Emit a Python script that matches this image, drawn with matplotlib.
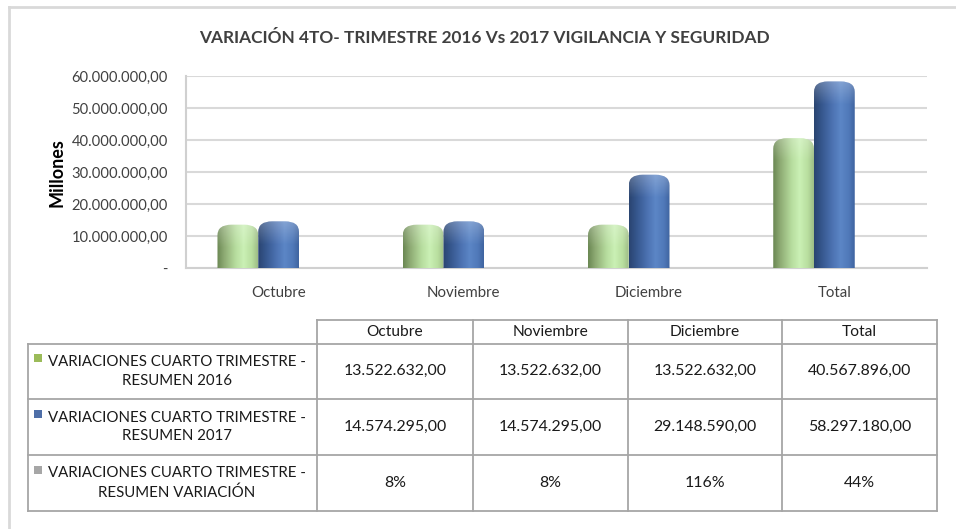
import matplotlib
matplotlib.use("Agg")
import matplotlib.pyplot as plt
import numpy as np
from matplotlib.patches import FancyBboxPatch, Rectangle
from matplotlib.lines import Line2D
from matplotlib.colors import LinearSegmentedColormap

# ---------------- data ----------------
categories = ["Octubre", "Noviembre", "Diciembre", "Total"]
series_names = ["VARIACIONES CUARTO TRIMESTRE -\nRESUMEN 2016",
                "VARIACIONES CUARTO TRIMESTRE -\nRESUMEN 2017",
                "VARIACIONES CUARTO TRIMESTRE -\nRESUMEN VARIACIÓN"]
values_2016 = [13522632.00, 13522632.00, 13522632.00, 40567896.00]
values_2017 = [14574295.00, 14574295.00, 29148590.00, 58297180.00]
variation_pct = [8, 8, 116, 44]
y_ticks = [0, 10000000, 20000000, 30000000, 40000000, 50000000, 60000000]
title = "VARIACIÓN 4TO- TRIMESTRE 2016 Vs 2017 VIGILANCIA Y SEGURIDAD"

FONT = ["Lato", "DejaVu Sans"]
plt.rcParams["font.family"] = FONT

W, H = 956, 529
fig = plt.figure(figsize=(W / 100, H / 100), dpi=100)

def fx(px):
    return px / W

def fy(py):
    return 1 - py / H

# outer frame
fig.add_artist(Line2D([fx(9), fx(9)], [fy(7), fy(H + 5)], color="#d9d9d9", lw=2))
fig.add_artist(Line2D([fx(9), fx(W + 5)], [fy(7), fy(7)], color="#d9d9d9", lw=2))

# title
fig.text(fx(484), fy(38), title, ha="center", va="center", fontsize=12.4,
         fontweight="bold", color="#404040", family=FONT)

# ---------------- chart ----------------
ax = fig.add_axes([fx(186), fy(268), fx(927) - fx(186), fy(76) - fy(268)])
ax.set_xlim(-0.5, len(categories) - 0.5)
ax.set_ylim(0, 60000000)
for s in ["top", "right"]:
    ax.spines[s].set_visible(False)
ax.spines["left"].set_color("#d0d0d0")
ax.spines["bottom"].set_color("#d0d0d0")
ax.spines["left"].set_linewidth(1.5)
ax.spines["bottom"].set_linewidth(1.5)
ax.set_yticks(y_ticks)

def fmt_es(v):
    if v == 0:
        return "-"
    s = f"{v:,.2f}"
    return s.replace(",", "X").replace(".", ",").replace("X", ".")

ax.set_yticklabels([fmt_es(v) for v in y_ticks], fontsize=10.6, color="#404040")
ax.set_xticks(range(len(categories)))
ax.set_xticklabels(categories, fontsize=10.8, color="#404040")
ax.tick_params(axis="both", length=0)
ax.tick_params(axis="y", pad=13)
ax.tick_params(axis="x", pad=13)
ax.grid(axis="y", color="#d9d9d9", lw=1.5)
ax.set_axisbelow(True)
fig.text(fx(57), fy(173), "Millones", rotation=90, ha="center", va="center",
         fontsize=13, fontweight="bold", color="#000000")

green_cmap = LinearSegmentedColormap.from_list(
    "g", [(0.0, "#6a8752"), (0.18, "#8eab74"), (0.45, "#b6dc9d"),
          (0.65, "#caf0b5"), (0.85, "#b9df9f"), (1.0, "#9dbc86")])
blue_cmap = LinearSegmentedColormap.from_list(
    "b", [(0.0, "#2a4470"), (0.18, "#35568c"), (0.45, "#4c72b2"),
          (0.65, "#5c86c6"), (0.85, "#5079b9"), (1.0, "#3f64a0")])

bw = 0.22
offset = -0.11
xs = np.arange(len(categories))
grad = np.linspace(0, 1, 256).reshape(1, -1)
bars16 = ax.bar(xs + offset - bw / 2, values_2016, bw, color="none", zorder=2)
bars17 = ax.bar(xs + offset + bw / 2, values_2017, bw, color="none", zorder=2)

# rounded tops with horizontal gradient
rx = 0.075
ry = 3300000
for bars, cmap in [(bars16, green_cmap), (bars17, blue_cmap)]:
    for b in bars:
        x0 = b.get_x()
        w = b.get_width()
        h = b.get_height()
        patch = FancyBboxPatch((x0 + rx, -5000000), w - 2 * rx, h + 5000000 - ry,
                               boxstyle=f"round,pad={rx},rounding_size={rx}",
                               mutation_aspect=ry / rx,
                               facecolor="none", edgecolor="none", transform=ax.transData)
        ax.add_patch(patch)
        im = ax.imshow(grad, cmap=cmap, extent=[x0, x0 + w, 0, h], aspect="auto",
                       zorder=3, interpolation="bilinear")
        im.set_clip_path(patch)
        # subtle top highlight
        hl = ax.imshow(np.linspace(0, 1, 64).reshape(-1, 1), cmap=LinearSegmentedColormap.from_list(
            "h", [(0, (1, 1, 1, 0.0)), (1, (1, 1, 1, 0.25))]), extent=[x0, x0 + w, h - 2.2 * ry, h],
            aspect="auto", zorder=4, origin="lower")
        hl.set_clip_path(patch)

ax.set_xlim(-0.5, len(categories) - 0.5)
ax.set_ylim(0, 60000000)

# ---------------- data table ----------------
line_c = "#a6a6a6"
col_x = [317, 473, 628, 782, 937]
row_y = [320, 343.5, 399, 455, 511]
lab_left = 28

def hline(x0, x1, y):
    fig.add_artist(Line2D([fx(x0), fx(x1)], [fy(y), fy(y)], color=line_c, lw=1.3))

def vline(x, y0, y1):
    fig.add_artist(Line2D([fx(x), fx(x)], [fy(y0), fy(y1)], color=line_c, lw=1.3))

hline(col_x[0], col_x[-1], row_y[0])
for y in row_y[1:]:
    hline(lab_left, col_x[-1], y)
vline(lab_left, row_y[1], row_y[-1])
for x in col_x:
    vline(x, row_y[0], row_y[-1])

for j, c in enumerate(categories):
    fig.text(fx((col_x[j] + col_x[j + 1]) / 2), fy((row_y[0] + row_y[1]) / 2), c,
             ha="center", va="center", fontsize=11.2, color="#1a1a1a")

rows = [[fmt_es(v) for v in values_2016],
        [fmt_es(v) for v in values_2017],
        [f"{p}%" for p in variation_pct]]
key_colors = ["#9bbb59", "#4f6fa8", "#a6a6a6"]
for i, row in enumerate(rows):
    yc = (row_y[i + 1] + row_y[i + 2]) / 2
    for j, t in enumerate(row):
        fig.text(fx((col_x[j] + col_x[j + 1]) / 2), fy(yc), t,
                 ha="center", va="center", fontsize=11.4, color="#1a1a1a")
    fig.text(fx(177), fy(yc), series_names[i],
             ha="center", va="center", fontsize=10.8, color="#1a1a1a",
             linespacing=1.45)
    fig.add_artist(Rectangle((fx(34), fy(yc - 9.5)), fx(8), fy(0) - fy(8),
                             facecolor=key_colors[i], edgecolor="none"))

fig.savefig("out.png", dpi=100, facecolor="white")
